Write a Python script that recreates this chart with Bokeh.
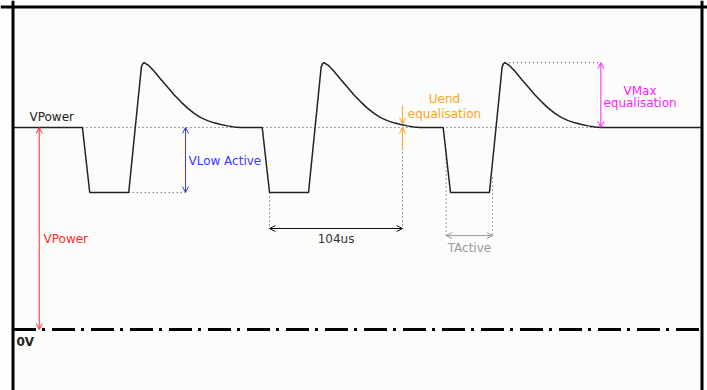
from bokeh.plotting import figure
from bokeh.models import Span, Arrow, OpenHead, Label, BoxAnnotation, Range1d
from bokeh.embed import file_html
from bokeh.resources import INLINE

# ---- data (time in us, voltage normalised to VPower = 1) ----
pulse_fall_us = [54.3, 194.9, 336.4]
shape_dt_us = [0.0, 5.7, 36.2, 46.1, 47.2, 48.3, 52.2, 56.1, 61.4, 66.5, 71.8,
               77.0, 82.2, 87.4, 92.6, 97.8, 103.0, 108.3, 113.4, 118.7, 123.3]
shape_v = [1.0, 0.678, 0.678, 1.300, 1.316, 1.321, 1.305, 1.278, 1.238, 1.200,
           1.161, 1.127, 1.096, 1.070, 1.049, 1.034, 1.023, 1.015, 1.008, 1.003, 1.000]
v_power = 1.0
v_low = 0.678
v_max = 1.321
v_zero = 0.0
t_period_label = 104.0
t_start, t_end = 0.0, 538.8

# build trace from the read points
xs = [t_start]
ys = [v_power]
for t0 in pulse_fall_us:
    for dt, v in zip(shape_dt_us, shape_v):
        xs.append(t0 + dt)
        ys.append(v)
xs.append(t_end)
ys.append(v_power)

FONT = "DejaVu Sans"
FS = "12px"

p = figure(width=707, height=390, output_backend="svg", toolbar_location=None,
           x_axis_type=None, y_axis_type=None,
           x_range=Range1d(-9.775, 543.09), y_range=Range1d(-0.302, 1.6287),
           min_border_left=0, min_border_right=0, min_border_top=0, min_border_bottom=0)
p.xgrid.visible = False
p.ygrid.visible = False
p.outline_line_color = None
p.background_fill_color = "#fcfcfa"
p.border_fill_color = "white"

# white outside the frame
p.add_layout(BoxAnnotation(right=t_start, fill_color="white", fill_alpha=1, line_color=None, level="underlay"))
p.add_layout(BoxAnnotation(left=t_end, fill_color="white", fill_alpha=1, line_color=None, level="underlay"))
p.add_layout(BoxAnnotation(bottom=1.5965, fill_color="white", fill_alpha=1, line_color=None, level="underlay"))

# frame border
for loc, dim in [(t_start, "height"), (t_end, "height"), (1.5965, "width")]:
    p.add_layout(Span(location=loc, dimension=dim, line_color="black", line_width=3))

DOT = "1 3"
DOTC = "#444444"

# dotted helper lines
first_fall = pulse_fall_us[0]
p.line([first_fall, 459.7], [v_power, v_power], line_color=DOTC, line_dash=DOT, line_width=1)
p.line([first_fall + shape_dt_us[2], 134.9], [v_low, v_low], line_color=DOTC, line_dash=DOT, line_width=1)
p1_bottom = pulse_fall_us[1] + shape_dt_us[1]
p.line([p1_bottom, p1_bottom], [v_low, 0.5], line_color=DOTC, line_dash=DOT, line_width=1)
t_uend = p1_bottom + t_period_label
p.line([t_uend, t_uend], [0.896, 0.5], line_color=DOTC, line_dash=DOT, line_width=1)
p.line([338.7, 338.7], [0.886, 0.465], line_color=DOTC, line_dash=DOT, line_width=1)
p.line([375.0, 375.0], [0.752, 0.465], line_color=DOTC, line_dash=DOT, line_width=1)
peak3 = pulse_fall_us[2] + shape_dt_us[5]
p.line([peak3, 459.7], [v_max, v_max], line_color=DOTC, line_dash=DOT, line_width=1)

# waveform
p.line(xs, ys, line_color="#222222", line_width=1.5)

# 0V line
p.line([t_start, t_end], [v_zero, v_zero], line_color="black", line_width=3,
       line_dash="23 6 3 7", line_cap="butt")


def arrow(x0, y0, x1, y1, color, both=True):
    head = dict(size=6, line_color=color, line_width=1)
    p.add_layout(Arrow(x_start=x0, y_start=y0, x_end=x1, y_end=y1,
                       line_color=color, line_width=1,
                       end=OpenHead(**head),
                       start=OpenHead(**head) if both else None))


def label(x, y, text, color, align="left", bold=False):
    p.add_layout(Label(x=x, y=y, text=text, text_color=color, text_font=FONT,
                       text_font_size=FS, text_align=align, text_baseline="middle",
                       text_font_style="bold" if bold else "normal"))


# VPower
RED = "#ff2a2a"
arrow(20.5, v_zero, 20.5, v_power, RED)
label(12.9, 1.050, "VPower", "#222222")
label(23.9, 0.450, "VPower", RED)
label(2.7, -0.064, "0V", "#222222", bold=True)

# VLow Active
BLUE = "#3a3aff"
arrow(134.9, v_low, 134.9, v_power, BLUE)
label(137.2, 0.832, "VLow Active", BLUE)

# 104us
arrow(p1_bottom, 0.5, t_uend, 0.5, "#111111")
label((p1_bottom + t_uend) / 2, 0.448, "104us", "#333333", align="center")

# Uend equalisation
ORANGE = "#ffa31a"
arrow(t_uend, 1.109, t_uend, 1.018, ORANGE, both=False)
arrow(t_uend, 0.896, t_uend, 1.0, ORANGE, both=False)
label(337.4, 1.139, "Uend", ORANGE, align="center")
label(337.4, 1.069, "equalisation", ORANGE, align="center")

# TActive
GRAY = "#9a9a9a"
arrow(338.7, 0.465, 375.0, 0.465, GRAY)
label(356.9, 0.401, "TActive", GRAY, align="center")

# VMax equalisation
MAG = "#ff19ff"
arrow(459.7, v_power, 459.7, v_max, MAG)
label(490.3, 1.183, "VMax", MAG, align="center")
label(490.3, 1.119, "equalisation", MAG, align="center")

open("out.html", "w").write(file_html(p, INLINE))
